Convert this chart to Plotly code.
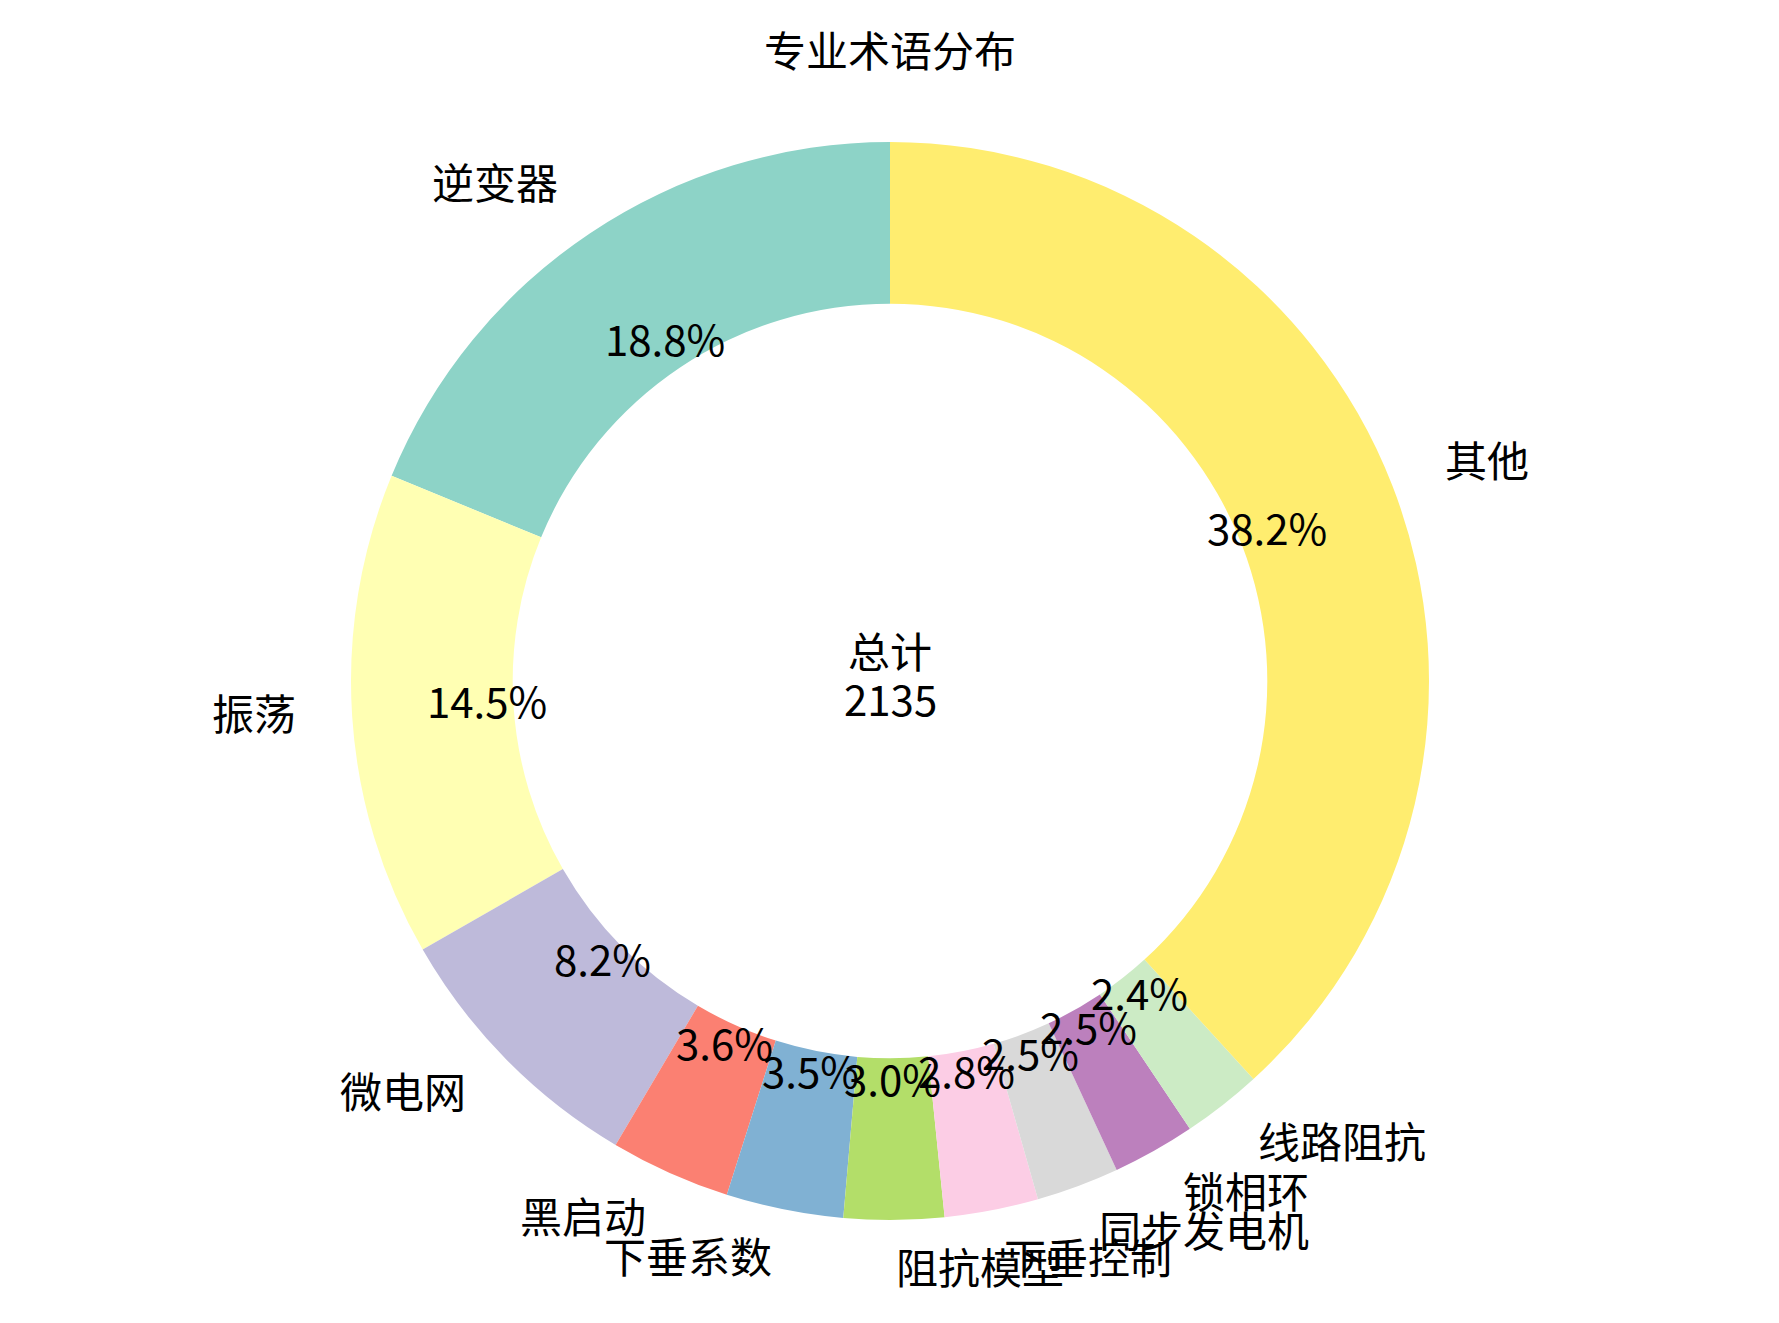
import numpy as np
import plotly.graph_objects as go

# data
terms = ['逆变器', '振荡', '微电网', '黑启动', '下垂系数', '阻抗模型',
         '下垂控制', '同步发电机', '锁相环', '线路阻抗', '其他']
counts = [401, 310, 175, 77, 75, 64, 60, 53, 53, 51, 816]
colors = ['#8dd3c7', '#ffffb3', '#bebada', '#fb8072', '#80b1d3', '#b3de69',
          '#fccde5', '#d9d9d9', '#bc80bd', '#ccebc5', '#ffed6f']

W, H = 1779, 1323
cx, cy, r = 882, 673, 539   # pie centre / radius in px (from top-left)
TDY = -8                    # nudge text up, noto sits a bit low
FONT = 'Noto Sans CJK SC'
FS = 42

total = sum(counts)
frac = np.array(counts) / total

# plotly's counterclockwise pie ends the first slice at the rotation angle,
# so rotate back by the first slice to make it start at 12 o'clock
fig = go.Figure(go.Pie(
    labels=terms,
    values=counts,
    marker=dict(colors=colors, line=dict(width=0)),
    hole=0.7,
    sort=False,
    direction='counterclockwise',
    rotation=-360 * frac[0],
    textinfo='none',
    hoverinfo='label+value+percent',
    showlegend=False,
    domain=dict(x=[(cx - r) / W, (cx + r) / W],
                y=[1 - (cy + r) / H, 1 - (cy - r) / H]),
))

# labels placed like matplotlib: names at 1.1 r, percents at 0.75 r
mid = 90 + 360 * (np.cumsum(frac) - frac / 2)
annotations = []
for name, f, a in zip(terms, frac, mid):
    c, s = np.cos(np.radians(a)), np.sin(np.radians(a))
    annotations.append(dict(
        x=(cx + 1.1 * r * c) / W, y=1 - (cy - 1.1 * r * s + TDY) / H,
        xref='paper', yref='paper', text=name, showarrow=False,
        xanchor='right' if c < 0 else 'left', yanchor='middle',
        font=dict(size=FS, color='black', family=FONT)))
    annotations.append(dict(
        x=(cx + 0.75 * r * c) / W, y=1 - (cy - 0.75 * r * s + TDY) / H,
        xref='paper', yref='paper', text=f'{f * 100:.1f}%', showarrow=False,
        xanchor='center', yanchor='middle',
        font=dict(size=FS, color='black', family=FONT)))

# centre text, two lines
for txt, dy in [('总计', -24), (str(total), 24)]:
    annotations.append(dict(
        x=cx / W, y=1 - (cy + dy + TDY) / H, xref='paper', yref='paper',
        text=txt, showarrow=False, xanchor='center', yanchor='middle',
        font=dict(size=FS, color='black', family=FONT)))

fig.update_layout(
    width=W, height=H,
    margin=dict(l=0, r=0, t=0, b=0),
    paper_bgcolor='white',
    plot_bgcolor='white',
    title=dict(text='专业术语分布', x=cx / W, xanchor='center',
               y=1 - 44 / H, yanchor='middle',
               font=dict(size=FS, color='black', family=FONT)),
    annotations=annotations,
)

fig.write_html("out.html")
